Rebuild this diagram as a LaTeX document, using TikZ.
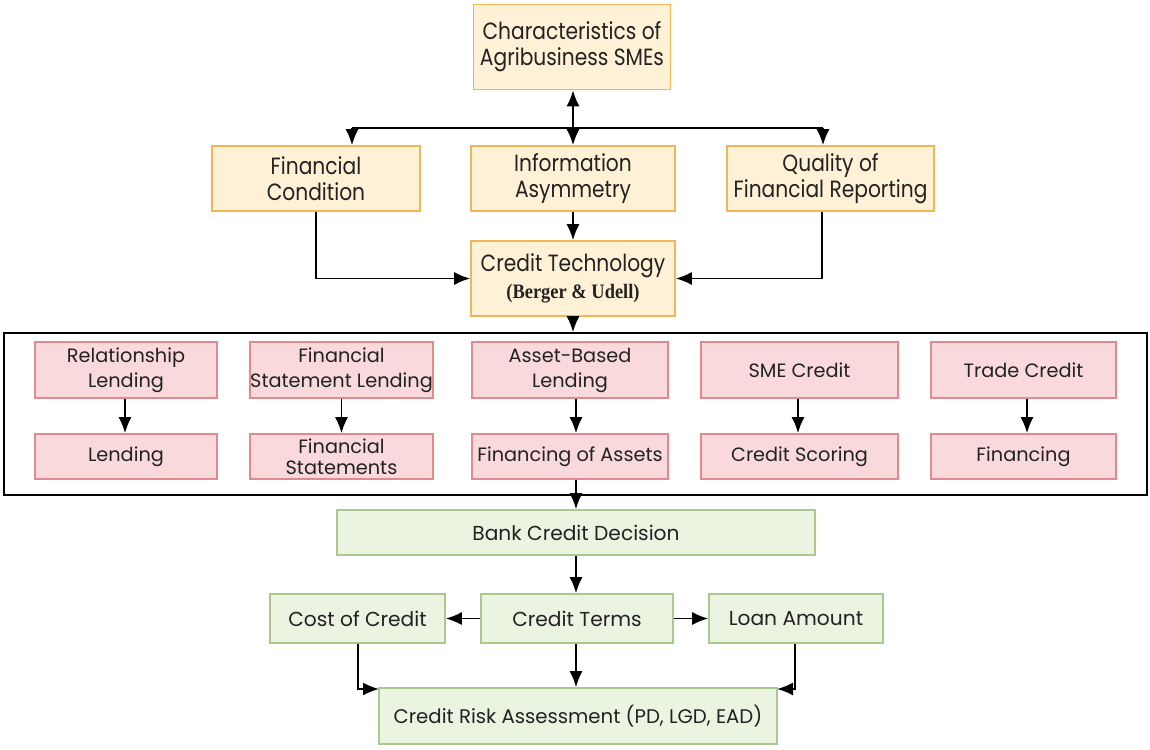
\documentclass[tikz,border=0pt]{standalone}
\usepackage{fontspec}
\setmainfont{Poppins}
\newfontfamily\condfont[FakeStretch=0.86]{Poppins}
\newfontfamily\serifb[FakeStretch=0.9]{Liberation Serif}
\usetikzlibrary{arrows.meta,positioning,calc}
\definecolor{obord}{HTML}{F2B65A}
\definecolor{ofill}{HTML}{FEF1D6}
\definecolor{pbord}{HTML}{E0898F}
\definecolor{pfill}{HTML}{F9D9DC}
\definecolor{gbord}{HTML}{A9C98E}
\definecolor{gfill}{HTML}{EBF3E1}
\definecolor{txt}{HTML}{222222}
\begin{document}
\begin{tikzpicture}[x=1pt,y=-1pt,
  box/.style={draw, line width=1.6pt, align=center, inner sep=0pt, text=txt},
  obox/.style={box, draw=obord, fill=ofill, font=\condfont\fontsize{23.5}{26}\selectfont},
  pbox/.style={box, draw=pbord, fill=pfill, font=\fontsize{19.3}{25}\selectfont},
  qbox/.style={box, draw=pbord, fill=pfill, font=\fontsize{19.3}{21}\selectfont},
  gbox/.style={box, draw=gbord, fill=gfill, font=\fontsize{20.2}{24}\selectfont},
  arr/.style={-{Latex[length=16pt,width=13pt]}, line width=1.8pt, black},
  line/.style={line width=1.8pt, black}]
\useasboundingbox (0,0) rectangle (1150,749);
% orange
\node[obox, minimum width=197, minimum height=85] (top) at (572,47) {Characteristics of\\Agribusiness SMEs};
\node[obox, minimum width=208, minimum height=65] (fc) at (316,178.5) {Financial\\Condition};
\node[obox, minimum width=204, minimum height=65] (ia) at (573,178.5) {Information\\Asymmetry};
\node[obox, minimum width=207, minimum height=65] (qf) at (830.5,178.5) {Quality of\\Financial Reporting};
\node[obox, minimum width=204, minimum height=75] (ct) at (573,278.5) {Credit Technology\\[1pt]{\serifb\bfseries\fontsize{20.5}{24}\selectfont(Berger \& Udell)}};
% arrows top
\coordinate (jl) at (352,128);
\coordinate (jr) at (823,128);
\draw[{Latex[length=16pt,width=13pt]}-{Latex[length=16pt,width=13pt]}, line width=1.8pt] (ia.north |- top.south) -- (ia.north);
\draw[line] (jl) -- (jr);
\draw[arr] (jl) -- (jl |- fc.north);
\draw[arr] (jr) -- (jr |- qf.north);
\draw[arr] (ia.south) -- (ct.north);
\draw[arr] (fc.south) |- (ct.west);
\draw[arr] (qf.south -| 822,0) |- (ct.east);
% big frame
\node[draw=black, line width=1.6pt, minimum width=1143, minimum height=162, inner sep=0pt] (frame) at (575.5,414) {};
\draw[arr] (ct.south) -- (frame.north -| ct.south);
% pink
\foreach \n/\x/\w/\a/\b in {1/126/182/{Relationship\\Lending}/{Lending},
  2/341.5/183/{Financial\\Statement Lending}/{Financial\\Statements},
  3/570/196/{Asset-Based\\Lending}/{Financing of Assets},
  4/799.5/197/{SME Credit}/{Credit Scoring},
  5/1023.5/185/{Trade Credit}/{Financing}}{
  \node[pbox, minimum width=\w, minimum height=56] (p\n) at (\x,370) {\a};
  \node[qbox, minimum width=\w, minimum height=45] (q\n) at (\x,456.5) {\b};
}
\draw[arr] (p1.south -| 125,0) -- (q1.north -| 125,0);
\draw[arr] (p2.south) -- (q2.north);
\draw[arr] (p3.south -| 576,0) -- (q3.north -| 576,0);
\draw[arr] (p4.south -| 798,0) -- (q4.north -| 798,0);
\draw[arr] (p5.south -| 1027,0) -- (q5.north -| 1027,0);
% green
\node[gbox, minimum width=478, minimum height=45] (bcd) at (576,532.5) {Bank Credit Decision};
\draw[arr] (q3.south -| 576,0) -- (bcd.north -| 576,0);
\node[gbox, minimum width=175, minimum height=49] (cost) at (357.5,618.5) {Cost of Credit};
\node[gbox, minimum width=192, minimum height=49] (terms) at (577,618.5) {Credit Terms};
\node[gbox, minimum width=174, minimum height=49] (loan) at (796,618.5) {Loan Amount};
\node[gbox, minimum width=398, minimum height=56, font=\fontsize{19.7}{24}\selectfont] (cra) at (578,716) {Credit Risk Assessment (PD, LGD, EAD)};
\draw[arr] (bcd.south -| 576,0) -- (terms.north -| 576,0);
\draw[arr] (terms.west) -- (cost.east);
\draw[arr] (terms.east) -- (loan.west);
\draw[arr] (terms.south -| 576,0) -- (cra.north -| 576,0);
\coordinate (cl) at (379,689);
\coordinate (cr) at (777,689);
\draw[arr] (cost.south -| 358,0) |- (cl);
\draw[arr] (loan.south -| 795,0) |- (cr);
\end{tikzpicture}
\end{document}
